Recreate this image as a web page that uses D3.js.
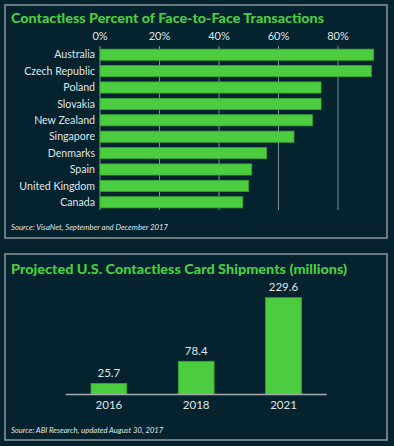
<!DOCTYPE html>
<html>
<head>
<meta charset="utf-8">
<script src="https://cdn.jsdelivr.net/npm/d3@7"></script>
<style>
  html, body { margin: 0; padding: 0; background: #05222f; }
  svg { display: block; }
  text { font-family: Lato, "Open Sans", sans-serif; }
</style>
</head>
<body>
<svg id="chart" width="394" height="446"></svg>
<script>
// top chart: contactless share of face-to-face transactions (%)
var countries = ["Australia", "Czech Republic", "Poland", "Slovakia", "New Zealand",
                 "Singapore", "Denmarks", "Spain", "United Kingdom", "Canada"];
var percents = [92, 91.2, 74.3, 74.3, 71.4, 65.2, 56, 51, 49.9, 48];
var pctTicks = [0, 20, 40, 60, 80];

// bottom chart: projected US contactless card shipments (millions)
var years = ["2016", "2018", "2021"];
var shipments = [25.7, 78.4, 229.6];

var green = "#4ccd3f", greenEdge = "#39a532";
var textCol = "#dfe6e8", gridCol = "#7d8e94", frameCol = "#8e989b";

var svg = d3.select("#chart");
svg.append("rect").attr("width", 394).attr("height", 446).attr("fill", "#05222f");

// panel frames
[[5, 5, 382, 233], [5, 254, 382, 186]].forEach(function(p) {
  svg.append("rect")
    .attr("x", p[0]).attr("y", p[1]).attr("width", p[2]).attr("height", p[3])
    .attr("fill", "none").attr("stroke", frameCol).attr("stroke-width", 1.5);
});

// ---------- top panel ----------
var gTop = svg.append("g");
gTop.append("text")
  .attr("x", 11).attr("y", 23)
  .attr("fill", green).attr("font-weight", 900).attr("font-size", 14)
  .attr("textLength", 313).attr("lengthAdjust", "spacingAndGlyphs")
  .text("Contactless Percent of Face-to-Face Transactions");

var x = d3.scaleLinear().domain([0, 80]).range([100, 338]);
var y = d3.scaleBand().domain(countries).range([46.5, 210.5]).paddingInner(0.32).paddingOuter(0.16);

// gridlines
gTop.selectAll("line.grid").data(pctTicks).join("line")
  .attr("class", "grid")
  .attr("x1", function(d) { return x(d); }).attr("x2", function(d) { return x(d); })
  .attr("y1", 46).attr("y2", 210)
  .attr("stroke", gridCol).attr("stroke-width", 1);

// tick labels
gTop.selectAll("text.tick").data(pctTicks).join("text")
  .attr("class", "tick")
  .attr("x", function(d) { return x(d); }).attr("y", 40)
  .attr("text-anchor", "middle").attr("fill", textCol).attr("font-size", 11)
  .text(function(d) { return d + "%"; });

gTop.selectAll("rect.bar").data(percents).join("rect")
  .attr("class", "bar")
  .attr("x", x(0))
  .attr("y", function(d, i) { return y(countries[i]); })
  .attr("width", function(d) { return x(d) - x(0); })
  .attr("height", y.bandwidth())
  .attr("fill", green).attr("stroke", greenEdge).attr("stroke-width", 0.8);

gTop.selectAll("text.cat").data(countries).join("text")
  .attr("class", "cat")
  .attr("x", 95).attr("y", function(d) { return y(d) + y.bandwidth() / 2; })
  .attr("dy", "0.35em").attr("text-anchor", "end")
  .attr("fill", textCol).attr("font-size", 10.6)
  .text(function(d) { return d; });

gTop.append("text")
  .attr("x", 11).attr("y", 230)
  .attr("fill", textCol).attr("font-size", 7.75).attr("font-style", "italic")
  .text("Source: VisaNet, September and December 2017");

// ---------- bottom panel ----------
var gBot = svg.append("g");
gBot.append("text")
  .attr("x", 11).attr("y", 273.5)
  .attr("fill", green).attr("font-weight", 900).attr("font-size", 14)
  .attr("textLength", 336).attr("lengthAdjust", "spacingAndGlyphs")
  .text("Projected U.S. Contactless Card Shipments (millions)");

var xb = d3.scaleBand().domain(years).range([65.7, 326.7]).paddingInner(0.59).paddingOuter(0.29);
var yb = d3.scaleLinear().domain([0, 229.6]).range([394.3, 297.7]);

gBot.selectAll("rect.col").data(shipments).join("rect")
  .attr("class", "col")
  .attr("x", function(d, i) { return xb(years[i]); })
  .attr("y", function(d) { return yb(d); })
  .attr("width", xb.bandwidth())
  .attr("height", function(d) { return yb(0) - yb(d); })
  .attr("fill", green).attr("stroke", greenEdge).attr("stroke-width", 0.8);

gBot.append("line")
  .attr("x1", 65.7).attr("x2", 326.7).attr("y1", 394.5).attr("y2", 394.5)
  .attr("stroke", "#a3adb0").attr("stroke-width", 1.5);

gBot.selectAll("text.val").data(shipments).join("text")
  .attr("class", "val")
  .attr("x", function(d, i) { return xb(years[i]) + xb.bandwidth() / 2; })
  .attr("y", function(d) { return yb(d) - 6.5; })
  .attr("text-anchor", "middle").attr("fill", textCol).attr("font-size", 11.5)
  .text(function(d) { return d; });

gBot.selectAll("text.yr").data(years).join("text")
  .attr("class", "yr")
  .attr("x", function(d) { return xb(d) + xb.bandwidth() / 2; })
  .attr("y", 408.5)
  .attr("text-anchor", "middle").attr("fill", textCol).attr("font-size", 11.5)
  .text(function(d) { return d; });

gBot.append("text")
  .attr("x", 11).attr("y", 432.5)
  .attr("fill", textCol).attr("font-size", 7.65).attr("font-style", "italic")
  .text("Source: ABI Research, updated August 30, 2017");
</script>
</body>
</html>
